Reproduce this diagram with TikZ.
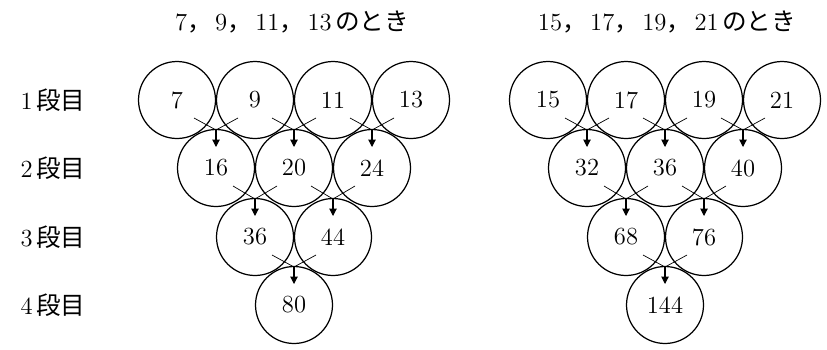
\documentclass[tikz,border=0pt]{standalone}
\usepackage{fontspec}
\newfontfamily\jp{Noto Sans CJK JP}
\usepackage{tikz}
\usetikzlibrary{calc,arrows.meta}
\newcommand{\jc}{{\jp ，}\hspace{2pt}}

\begin{document}
\begin{tikzpicture}[x=0.02cm,y=-0.02cm,
		ball/.style={circle,draw,line width=0.7pt,minimum size=1.54cm,inner sep=0pt,font=\fontsize{14}{16}\selectfont},
		lab/.style={font=\fontsize{14}{16}\selectfont},
		pair/.style={line width=0.4pt},
		down/.style={line width=0.6pt,-{Triangle[length=4.2pt,width=4.2pt]}}]
		\useasboundingbox (0,0) rectangle (827,349);
		% ROW LABELS
		\node[lab] (r1) at (53,100) {1\hspace{2pt}{\jp 段目}};
		\node[lab] (r2) at (53,168) {2\hspace{2pt}{\jp 段目}};
		\node[lab] (r3) at (53,237) {3\hspace{2pt}{\jp 段目}};
		\node[lab] (r4) at (53,305) {4\hspace{2pt}{\jp 段目}};
		% TITLES
		\node[lab] (tL) at (292,22) {7\jc 9\jc 11\jc 13\hspace{2pt}{\jp のとき}};
		\node[lab] (tR) at (667,22) {15\jc 17\jc 19\jc 21\hspace{2pt}{\jp のとき}};
		% THE TWO TRIANGLES OF CIRCLES
		\foreach \tri/\dx/\a/\b/\c/\d/\e/\f/\g/\h/\i/\j in
			{L/0/7/9/11/13/16/20/24/36/44/80, R/371/15/17/19/21/32/36/40/68/76/144}{
			\node[ball] (\tri11) at (177+\dx,100) {\a};
			\node[ball] (\tri12) at (255+\dx,100) {\b};
			\node[ball] (\tri13) at (333+\dx,100) {\c};
			\node[ball] (\tri14) at (411+\dx,100) {\d};
			\node[ball] (\tri21) at (216+\dx,168) {\e};
			\node[ball] (\tri22) at (294+\dx,168) {\f};
			\node[ball] (\tri23) at (372+\dx,168) {\g};
			\node[ball] (\tri31) at (255+\dx,237) {\h};
			\node[ball] (\tri32) at (333+\dx,237) {\i};
			\node[ball] (\tri41) at (294+\dx,305) {\j};
		}
		% ADDING ARROWS
		\foreach \tri in {L,R}{
			\foreach \r/\k in {1/1,1/2,1/3,2/1,2/2,3/1}{
				\pgfmathtruncatemacro\rr{\r+1}
				\pgfmathtruncatemacro\kk{\k+1}
				\coordinate (from) at ($(\tri\r\k)+(17,18)$);
				\coordinate (to) at ($(\tri\r\kk)+(-17,18)$);
				\coordinate (meet) at ($(\tri\rr\k)+(0,-38)$);
				\coordinate (tip) at ($(\tri\rr\k)+(0,-21)$);
				\draw[pair] (from) -- (meet) -- (to);
				\draw[down] (meet) -- (tip);
			}
		}
\end{tikzpicture}
\end{document}
